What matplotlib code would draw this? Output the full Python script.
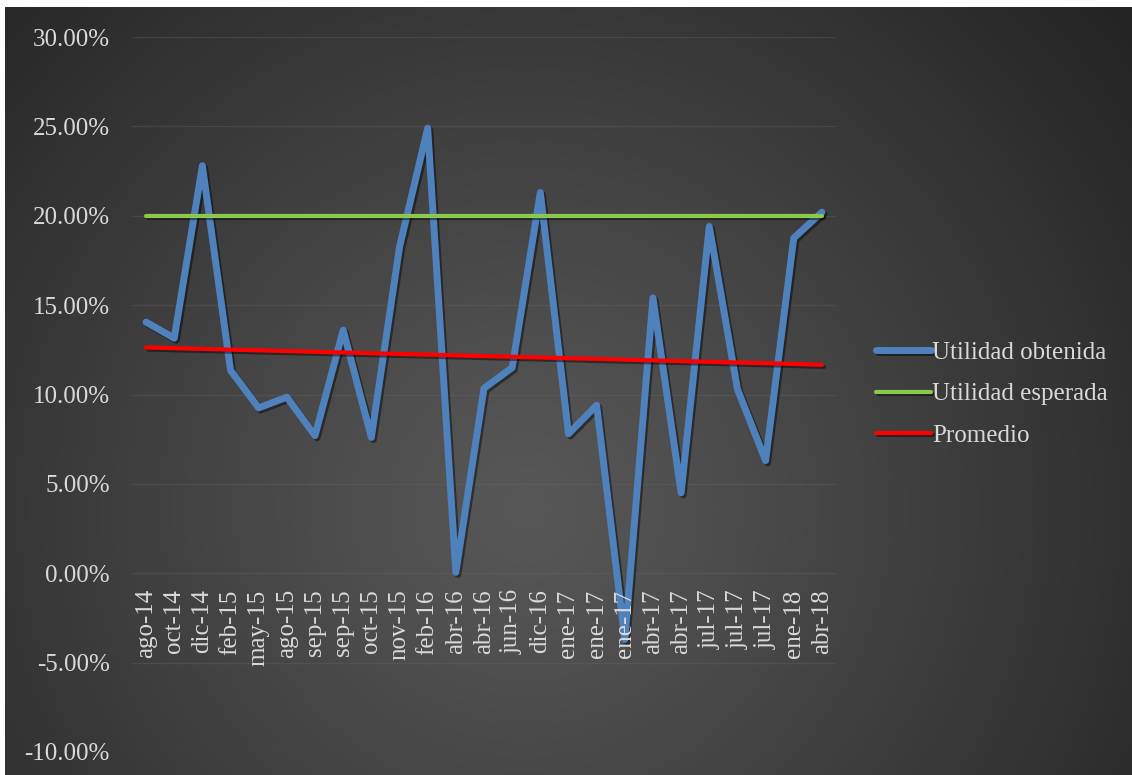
import numpy as np
import matplotlib.pyplot as plt
import matplotlib.patheffects as pe
from matplotlib.ticker import FuncFormatter

# data (percent)
meses = ["ago-14", "oct-14", "dic-14", "feb-15", "may-15", "ago-15", "sep-15",
         "sep-15", "oct-15", "nov-15", "feb-16", "abr-16", "abr-16", "jun-16",
         "dic-16", "ene-17", "ene-17", "ene-17", "abr-17", "abr-17", "jul-17",
         "jul-17", "jul-17", "ene-18", "abr-18"]
utilidad_obtenida = [14.05, 13.15, 22.8, 11.35, 9.25, 9.85, 7.7, 13.6, 7.6, 18.25,
                     24.9, 0.05, 10.35, 11.5, 21.3, 7.8, 9.4, -3.7, 15.4, 4.5,
                     19.4, 10.3, 6.3, 18.75, 20.2]
utilidad_esperada = [20.0] * 25
promedio = [12.63, 12.59, 12.55, 12.51, 12.47, 12.43, 12.39, 12.35, 12.31, 12.27,
            12.23, 12.19, 12.15, 12.11, 12.07, 12.03, 11.99, 11.95, 11.91, 11.87,
            11.83, 11.79, 11.75, 11.71, 11.66]

W, H = 1132, 775
fig = plt.figure(figsize=(W / 100, H / 100), dpi=100, facecolor="white")

# radial gradient background
bg = fig.add_axes([5 / W, 0, 1 - 5 / W, 1 - 7 / H])
bg.axis("off")
yy, xx = np.mgrid[0:768, 0:1127]
r = np.sqrt((xx - 520) ** 2 + (yy - 500) ** 2) / 760
r = np.clip(r, 0, 1)
shade = 0.345 - (0.345 - 0.145) * r ** 1.1
img = np.dstack([shade, shade, shade])
bg.imshow(img, aspect="auto", extent=[0, 1, 0, 1])
bg.set_xlim(0, 1)
bg.set_ylim(0, 1)

font = "Liberation Serif"
txt = "#d9d9d9"
fs = 18

ax = fig.add_axes([132 / W, 1 - 752 / H, (836 - 132) / W, (752 - 37) / H])
ax.patch.set_alpha(0)
for s in ax.spines.values():
    s.set_visible(False)

x = np.arange(len(meses))
shadow = [pe.SimpleLineShadow(offset=(1.5, -1.5), alpha=0.45), pe.Normal()]
ax.plot(x, utilidad_obtenida, color="#4f81bd", lw=5, solid_joinstyle="round",
        solid_capstyle="round", label="Utilidad obtenida", path_effects=shadow, zorder=3)
ax.plot(x, utilidad_esperada, color="#8cc84b", lw=3, solid_capstyle="round",
        label="Utilidad esperada", path_effects=shadow, zorder=3)
ax.plot(x, promedio, color="#ff0000", lw=3, solid_capstyle="round",
        label="Promedio", path_effects=shadow, zorder=3)

ax.set_xlim(-0.5, len(meses) - 0.5)
ax.set_ylim(-10, 30)
ax.set_yticks(np.arange(-10, 31, 5))
ax.yaxis.set_major_formatter(FuncFormatter(lambda v, p: f"{v:.2f}%"))
ax.grid(axis="y", color="#6a6a6a", lw=1, alpha=0.3, zorder=0)
ax.tick_params(axis="y", length=0, pad=16, labelcolor=txt, labelsize=fs)
for t in ax.get_yticklabels():
    t.set_fontfamily(font)
ax.set_xticks([])

for i, m in enumerate(meses):
    ax.annotate(m, (i, 0), xytext=(0, -16), textcoords="offset pixels",
                rotation=90, ha="center", va="top", color=txt,
                fontsize=fs, fontfamily=font, zorder=4)

leg = ax.legend(loc="center left", bbox_to_anchor=(853 / W, 1 - 394 / H),
                bbox_transform=fig.transFigure, frameon=False,
                prop={"family": font, "size": fs}, handlelength=2.2,
                handletextpad=0.05, labelspacing=0.75)
for t in leg.get_texts():
    t.set_color(txt)

fig.savefig("out.png", dpi=100, facecolor="white")
